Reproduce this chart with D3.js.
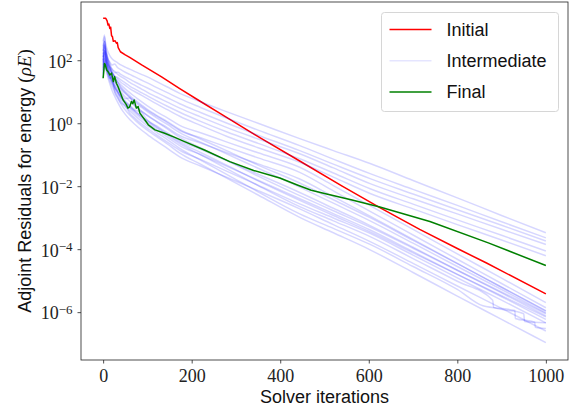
<!DOCTYPE html>
<html>
<head>
<meta charset="utf-8">
<script src="https://cdn.jsdelivr.net/npm/d3@7"></script>
<style>
  html, body { margin: 0; padding: 0; background: #fff; }
  svg { display: block; }
</style>
</head>
<body>
<div id="chart"></div>
<script>
// Adjoint residual histories for energy, stored as [iteration, log10(residual)]
const initialRun = [
  [0, 3.33], [6, 3.33], [9, 3.25], [11, 3.12], [13, 3.15], [15, 3.01], [17, 3.05],
  [19, 2.78], [21, 2.75], [23, 2.60], [27, 2.62], [30, 2.54], [32, 2.56], [34, 2.40],
  [39, 2.27], [50, 2.17], [60, 2.09], [87, 1.85], [132, 1.47], [173, 1.10], [220, 0.69],
  [264, 0.31], [354, -0.46], [444, -1.20], [540, -2.00], [625, -2.68], [715, -3.37],
  [800, -3.98], [866, -4.44], [1000, -5.42]
];

const finalRun = [
  [0, 1.43], [3, 1.90], [5, 1.85], [8, 1.69], [12, 1.62], [15, 1.53], [19, 1.59],
  [23, 1.32], [26, 1.48], [30, 1.27], [34, 1.15], [38, 1.00], [45, 0.74], [52, 0.60],
  [56, 0.48], [60, 0.52], [64, 0.69], [67, 0.62], [70, 0.74], [75, 0.48], [79, 0.53],
  [83, 0.32], [94, 0.11], [102, -0.05], [117, -0.21], [139, -0.32], [162, -0.45],
  [180, -0.56], [230, -0.86], [286, -1.22], [340, -1.50], [399, -1.74], [440, -1.97],
  [470, -2.13], [500, -2.23], [560, -2.43], [625, -2.66], [738, -3.12], [870, -3.80],
  [1000, -4.52]
];

// Intermediate design runs share one iteration grid
const intermediateIters = [0, 3, 6, 10, 15, 20, 26, 33, 40, 50, 60, 72, 85, 100, 120, 145,
  173, 220, 280, 350, 444, 520, 603, 700, 800, 900, 1000];

const intermediateLog10 = [
  [2.45, 2.75, 2.5, 2.3, 2.15, 2.05, 1.98, 1.92, 1.85, 1.78, 1.72, 1.64, 1.56, 1.47, 1.33, 1.15, 0.95, 0.68, 0.36, 0.0, -0.49, -0.87, -1.28, -1.82, -2.37, -2.93, -3.48],
  [2.1, 2.5, 2.3, 2.05, 1.95, 1.85, 1.88, 1.76, 1.7, 1.62, 1.55, 1.47, 1.38, 1.28, 1.14, 0.97, 0.78, 0.50, 0.16, -0.22, -0.71, -1.14, -1.60, -2.10, -2.61, -3.13, -3.64],
  [1.9, 2.3, 2.2, 1.95, 1.8, 1.72, 1.6, 1.62, 1.55, 1.47, 1.4, 1.31, 1.22, 1.12, 0.98, 0.81, 0.62, 0.34, 0.0, -0.38, -0.87, -1.30, -1.76, -2.25, -2.75, -3.24, -3.74],
  [2.2, 2.6, 2.35, 2.1, 1.9, 1.72, 1.65, 1.55, 1.48, 1.4, 1.3, 1.2, 1.1, 0.98, 0.84, 0.67, 0.48, 0.2, -0.14, -0.5, -0.97, -1.42, -1.92, -2.40, -2.88, -3.37, -3.85],
  [1.7, 2.1, 2.0, 1.85, 1.7, 1.6, 1.5, 1.45, 1.38, 1.28, 1.18, 1.08, 0.98, 0.87, 0.72, 0.54, 0.35, 0.06, -0.28, -0.64, -1.13, -1.58, -2.08, -2.57, -3.07, -3.56, -4.06],
  [2.3, 2.45, 2.2, 1.95, 1.75, 1.62, 1.5, 1.4, 1.3, 1.2, 1.1, 1.0, 0.9, 0.78, 0.62, 0.43, 0.22, -0.07, -0.42, -0.78, -1.24, -1.71, -2.23, -2.72, -3.22, -3.71, -4.21],
  [2.0, 2.3, 2.1, 1.9, 1.75, 1.6, 1.45, 1.32, 1.22, 1.09, 0.97, 0.84, 0.7, 0.55, 0.37, 0.17, -0.07, -0.30, -0.60, -0.94, -1.40, -1.98, -2.62, -3.37, -4.15, -4.92, -5.70],
  [1.8, 2.2, 2.0, 1.8, 1.6, 1.48, 1.32, 1.2, 1.08, 0.95, 0.83, 0.7, 0.56, 0.41, 0.23, 0.02, -0.23, -0.46, -0.76, -1.10, -1.56, -2.15, -2.80, -3.55, -4.32, -5.09, -5.86],
  [1.55, 2.0, 1.9, 1.7, 1.52, 1.38, 1.22, 1.08, 0.95, 0.78, 0.8, 0.54, 0.4, 0.25, 0.07, -0.14, -0.39, -0.63, -0.94, -1.29, -1.77, -2.33, -2.95, -3.69, -4.45, -5.21, -5.97],
  [2.6, 2.8, 2.4, 2.1, 1.85, 1.62, 1.45, 1.28, 1.12, 0.96, 0.82, 0.67, 0.52, 0.37, 0.18, -0.04, -0.30, -0.60, -0.98, -1.43, -2.03, -2.54, -3.10, -3.81, -4.55, -5.28, -6.02],
  [1.6, 1.95, 1.8, 1.62, 1.45, 1.3, 1.12, 1.0, 0.85, 0.7, 0.58, 0.42, 0.36, 0.1, -0.08, -0.3, -0.55, -0.83, -1.19, -1.62, -2.20, -2.70, -3.25, -3.94, -4.67, -5.39, -6.12],
  [2.1, 2.4, 2.1, 1.8, 1.55, 1.35, 1.15, 0.98, 0.8, 0.62, 0.48, 0.32, 0.16, 0.0, -0.2, -0.44, -0.71, -1.00, -1.37, -1.81, -2.40, -2.87, -3.39, -4.08, -4.80, -5.51, -6.23],
  [1.45, 1.85, 1.72, 1.55, 1.35, 1.18, 1.0, 0.82, 0.65, 0.55, 0.32, 0.16, 0.0, -0.16, -0.36, -0.6, -0.86, -1.15, -1.53, -1.97, -2.56, -3.01, -3.50, -4.19, -4.91, -5.62, -6.34],
  [1.75, 2.05, 1.8, 1.5, 1.25, 1.05, 0.86, 0.66, 0.48, 0.28, 0.12, -0.04, -0.2, -0.36, -0.56, -0.8, -1.07, -1.36, -1.72, -2.14, -2.72, -3.22, -3.76, -4.45, -5.17, -5.88, -6.60],
  [1.95, 2.3, 1.98, 1.68, 1.42, 1.48, 1.0, 0.8, 0.62, 0.42, 0.26, 0.1, -0.06, -0.22, -0.42, -0.66, -0.95, -1.30, -1.75, -2.28, -2.99, -3.48, -4.02, -4.74, -5.49, -6.23, -6.97],
  [2.3, 2.6, 2.25, 1.98, 1.72, 1.52, 1.32, 1.15, 1.0, 0.84, 0.7, 0.55, 0.4, 0.24, 0.05, -0.18, -0.45, -0.78, -1.19, -1.68, -2.30, -2.78, -3.30, -3.97, -4.67, -5.36, -6.05],
  [1.85, 2.25, 2.0, 1.75, 1.52, 1.34, 1.15, 0.98, 0.82, 0.66, 0.52, 0.38, 0.23, 0.08, -0.11, -0.34, -0.60, -0.93, -1.34, -1.83, -2.45, -2.93, -3.45, -4.12, -4.80, -5.48, -6.15],
  [1.65, 2.05, 1.9, 1.65, 1.45, 1.26, 1.08, 0.9, 0.72, 0.54, 0.4, 0.24, 0.08, -0.08, -0.28, -0.52, -0.80, -1.17, -1.63, -2.18, -2.88, -3.34, -3.85, -4.55, -5.28, -5.95, -6.52],
  [2.4, 2.6, 2.28, 2.02, 1.8, 1.62, 1.45, 1.3, 1.16, 1.01, 0.88, 0.74, 0.6, 0.44, 0.26, 0.05, -0.20, -0.50, -0.88, -1.33, -1.90, -2.43, -3.00, -3.72, -4.46, -5.21, -5.95],
  [2.0, 2.45, 2.1, 1.85, 1.6, 1.4, 1.2, 1.02, 0.86, 0.68, 0.54, 0.38, 0.22, 0.06, -0.14, -0.38, -0.65, -1.00, -1.45, -1.98, -2.65, -3.10, -3.60, -4.30, -5.02, -5.73, -6.45]
];

// Runs whose final stretch stalls and then drops in steps (run index -> points)
const intermediateTails = {
  17: [[858, -5.80], [930, -5.95], [931, -6.20], [975, -6.32], [976, -6.48], [1000, -6.52]],
  19: [[880, -5.62], [882, -5.85], [950, -6.05], [952, -6.30], [1000, -6.34]]
};

const xTickValues = [0, 200, 400, 600, 800, 1000];
const yTickExponents = [2, 0, -2, -4, -6];
const legendLabels = ["Initial", "Intermediate", "Final"];

// ---- layout ----
const W = 571, H = 412;
const plot = { left: 81, right: 568, top: 2, bottom: 360 };

const x = d3.scaleLinear().domain([-50, 1050]).range([plot.left, plot.right]);
const y = d3.scaleLog().domain([Math.pow(10, -7.52), Math.pow(10, 3.85)]).range([plot.bottom, plot.top]);

const svg = d3.select("#chart").append("svg")
  .attr("width", W).attr("height", H)
  .attr("viewBox", `0 0 ${W} ${H}`);

svg.append("defs").append("clipPath").attr("id", "plot-clip")
  .append("rect")
  .attr("x", plot.left).attr("y", plot.top)
  .attr("width", plot.right - plot.left).attr("height", plot.bottom - plot.top);

const line = d3.line()
  .x(d => x(d[0]))
  .y(d => y(Math.pow(10, d[1])));
const smoothLine = d3.line()
  .x(d => x(d[0]))
  .y(d => y(Math.pow(10, d[1])))
  .curve(d3.curveMonotoneX);

const runs = intermediateLog10.map((row, i) => {
  const pts = intermediateIters.map((it, j) => [it, row[j]]);
  const tail = intermediateTails[i];
  if (!tail) return pts;
  return pts.filter(p => p[0] < tail[0][0]).concat(tail);
});

const lines = svg.append("g").attr("clip-path", "url(#plot-clip)");

lines.append("path")
  .datum(initialRun)
  .attr("d", line)
  .attr("fill", "none")
  .attr("stroke", "#ff0000")
  .attr("stroke-width", 1.5)
  .attr("stroke-linejoin", "round");

lines.selectAll("path.intermediate")
  .data(runs)
  .join("path")
  .attr("class", "intermediate")
  .attr("d", smoothLine)
  .attr("fill", "none")
  .attr("stroke", "#0000ff")
  .attr("stroke-opacity", 0.16)
  .attr("stroke-width", 1.5)
  .attr("stroke-linejoin", "round");

lines.append("path")
  .datum(finalRun)
  .attr("d", line)
  .attr("fill", "none")
  .attr("stroke", "#008000")
  .attr("stroke-width", 1.5)
  .attr("stroke-linejoin", "round");

// ---- axes ----
const serif = "'Liberation Serif', 'DejaVu Serif', serif";
const sans = "'Liberation Sans', Arial, sans-serif";

const xAxis = svg.append("g")
  .attr("transform", `translate(0,${plot.bottom})`)
  .call(d3.axisBottom(x).tickValues(xTickValues).tickFormat(d3.format("d"))
    .tickSize(3.5).tickPadding(5.5).tickSizeOuter(0));
xAxis.select(".domain").remove();
xAxis.selectAll(".tick line").attr("stroke", "#222").attr("stroke-width", 0.8);
xAxis.selectAll(".tick text")
  .attr("fill", "#222")
  .style("font-family", serif)
  .style("font-size", "18px");

const yAxis = svg.append("g")
  .attr("transform", `translate(${plot.left},0)`)
  .call(d3.axisLeft(y)
    .tickValues(yTickExponents.map(e => Math.pow(10, e)))
    .tickSize(3.5).tickPadding(5).tickSizeOuter(0)
    .tickFormat(() => ""));
yAxis.select(".domain").remove();
yAxis.selectAll(".tick line").attr("stroke", "#222").attr("stroke-width", 0.8);
yAxis.selectAll(".tick text")
  .attr("fill", "#222")
  .style("font-family", serif)
  .style("font-size", "18px")
  .attr("dy", "0.38em")
  .each(function (d) {
    const e = Math.round(Math.log10(d));
    const t = d3.select(this);
    t.append("tspan").text("10");
    t.append("tspan")
      .attr("dy", "-0.45em")
      .style("font-size", "13px")
      .text(e < 0 ? "\u2212" + Math.abs(e) : String(e));
  });

// frame
svg.append("rect")
  .attr("x", plot.left).attr("y", plot.top)
  .attr("width", plot.right - plot.left).attr("height", plot.bottom - plot.top)
  .attr("fill", "none")
  .attr("stroke", "#222")
  .attr("stroke-width", 0.8);

// axis titles
svg.append("text")
  .attr("x", (plot.left + plot.right) / 2)
  .attr("y", 403)
  .attr("text-anchor", "middle")
  .attr("fill", "#111")
  .style("font-family", sans)
  .style("font-size", "18px")
  .text("Solver iterations");

const yTitle = svg.append("text")
  .attr("transform", `translate(31,${(plot.top + plot.bottom) / 2}) rotate(-90)`)
  .attr("text-anchor", "middle")
  .attr("fill", "#111")
  .style("font-family", sans)
  .style("font-size", "18px");
yTitle.append("tspan").text("Adjoint Residuals for energy ");
yTitle.append("tspan").style("font-family", serif).style("font-size", "19px").text("(");
yTitle.append("tspan").style("font-family", serif).style("font-style", "italic").style("font-size", "19px").text("\u03C1E");
yTitle.append("tspan").style("font-family", serif).style("font-size", "19px").text(")");

// ---- legend ----
const legendStyles = [
  { stroke: "#ff0000", opacity: 1 },
  { stroke: "#0000ff", opacity: 0.1 },
  { stroke: "#008000", opacity: 1 }
];
const legend = svg.append("g");
legend.append("rect")
  .attr("x", 381.5).attr("y", 12.5)
  .attr("width", 177).attr("height", 99)
  .attr("rx", 3)
  .attr("fill", "#fff").attr("fill-opacity", 0.8)
  .attr("stroke", "#d6d6d6").attr("stroke-width", 1);

const entry = legend.selectAll("g.entry")
  .data(legendLabels)
  .join("g")
  .attr("class", "entry")
  .attr("transform", (d, i) => `translate(0,${29.5 + i * 31.2})`);
entry.append("line")
  .attr("x1", 389.5).attr("x2", 431.5)
  .attr("stroke", (d, i) => legendStyles[i].stroke)
  .attr("stroke-opacity", (d, i) => legendStyles[i].opacity)
  .attr("stroke-width", 1.5);
entry.append("text")
  .attr("x", 446.5)
  .attr("dy", "0.35em")
  .attr("fill", "#111")
  .style("font-family", sans)
  .style("font-size", "18px")
  .text(d => d);
</script>
</body>
</html>
